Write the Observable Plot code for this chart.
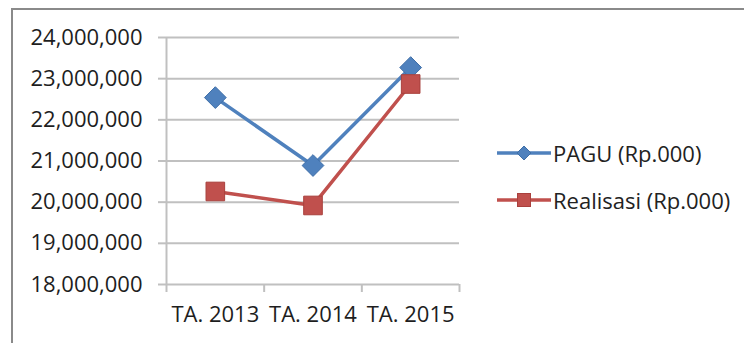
<!DOCTYPE html>
<html>
<head>
<meta charset="utf-8">
<script src="https://cdn.jsdelivr.net/npm/d3@7"></script>
<script src="https://cdn.jsdelivr.net/npm/@observablehq/plot@0.6"></script>
<style>
  html, body { margin: 0; padding: 0; background: #fff; }
  #wrap { position: relative; width: 744px; height: 343px; overflow: hidden; font-family: "Open Sans", sans-serif; color: #222; }
  #frame { position: absolute; left: 11px; top: 8px; width: 760px; height: 360px; border-top: 2px solid #8a8a8a; border-left: 2px solid #8a8a8a; }
  .leg { position: absolute; left: 496px; height: 26px; display: flex; align-items: center; font-size: 22px; white-space: nowrap; }
  .leg svg { display: block; margin-right: 1px; }
  #chart { position: absolute; left: 0; top: 0; }
</style>
</head>
<body>
<div id="wrap">
  <div id="frame"></div>
  <div id="chart"></div>
  <div id="legend"></div>
</div>
<script>
const categories = ["TA. 2013", "TA. 2014", "TA. 2015"];
const pagu = [22540000, 20890000, 23270000];
const realisasi = [20260000, 19920000, 22870000];
const yTicks = [18000000, 19000000, 20000000, 21000000, 22000000, 23000000, 24000000];
const seriesNames = ["PAGU (Rp.000)", "Realisasi (Rp.000)"];
const colors = ["#4F81BD", "#C0504D"];
const strokes = ["#3f6fa8", "#a9403d"];

const idx = categories.map((c, i) => i);
const boundaries = [-0.5, 0.5, 1.5, 2.5];
const rowsP = categories.map((c, i) => ({i, value: pagu[i]}));
const rowsR = categories.map((c, i) => ({i, value: realisasi[i]}));

const chart = Plot.plot({
  width: 744,
  height: 343,
  marginLeft: 166,
  marginRight: 285,
  marginTop: 37,
  marginBottom: 59,
  style: {fontFamily: "Open Sans", fontSize: "22px", color: "#222", background: "transparent", overflow: "visible"},
  x: {domain: [-0.5, 2.5]},
  y: {domain: [18000000, 24000000]},
  marks: [
    Plot.gridY(yTicks, {stroke: "#c0c0c0", strokeOpacity: 1, strokeWidth: 2}),
    Plot.axisY(yTicks, {tickFormat: d3.format(","), tickSize: 8, tickPadding: 16, stroke: "#c0c0c0", strokeWidth: 2, fill: "#1e1e1e", label: null}),
    Plot.ruleX([-0.5], {stroke: "#c0c0c0", strokeWidth: 2}),
    Plot.axisX(boundaries, {tickSize: 8, tickFormat: () => "", stroke: "#c0c0c0", strokeWidth: 2, label: null}),
    Plot.axisX(idx, {tickSize: 0, tickPadding: 22, tickFormat: i => categories[i], fill: "#1e1e1e", label: null}),
    Plot.line(rowsP, {x: "i", y: "value", stroke: colors[0], strokeWidth: 3.5}),
    Plot.line(rowsR, {x: "i", y: "value", stroke: colors[1], strokeWidth: 3.5}),
    Plot.dot(rowsP, {x: "i", y: "value", symbol: "diamond2", r: 9.8, fill: colors[0], stroke: strokes[0], strokeWidth: 1}),
    Plot.dot(rowsR, {x: "i", y: "value", symbol: "square", r: 10.5, fill: colors[1], stroke: strokes[1], strokeWidth: 1})
  ]
});
document.getElementById("chart").appendChild(chart);

// Legend
const legend = document.getElementById("legend");
const legTops = [140, 187];
seriesNames.forEach((name, k) => {
  const div = document.createElement("div");
  div.className = "leg";
  div.style.top = legTops[k] + "px";
  const marker = k === 0
    ? `<path d="M28,6 L35,13 L28,20 L21,13 Z" fill="${colors[0]}" stroke="${strokes[0]}" stroke-width="1"/>`
    : `<rect x="21.5" y="6.5" width="13" height="13" fill="${colors[1]}" stroke="${strokes[1]}" stroke-width="1"/>`;
  div.innerHTML = `<svg width="56" height="26"><line x1="1" x2="55" y1="13" y2="13" stroke="${colors[k]}" stroke-width="3.5"/>${marker}</svg><span>${name}</span>`;
  legend.appendChild(div);
});
</script>
</body>
</html>
